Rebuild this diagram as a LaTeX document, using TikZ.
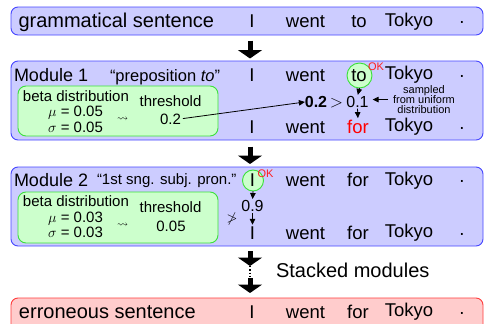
\documentclass[tikz,border=0pt]{standalone}
\usepackage{amssymb}
\usepackage{fontspec}
\setmainfont{Liberation Sans}
\usetikzlibrary{arrows.meta}
\definecolor{lav}{HTML}{CCCCFF}
\definecolor{lavd}{HTML}{4646FF}
\definecolor{lgr}{HTML}{CCFFCC}
\definecolor{lgrd}{HTML}{3CE03C}
\definecolor{lpk}{HTML}{FFCCCC}
\definecolor{lpkd}{HTML}{FF3C3C}
\definecolor{okred}{HTML}{FF1E1E}
\newcommand{\fsLab}{\fontsize{20}{24}\selectfont}
\newcommand{\fsWrd}{\fontsize{18.5}{22}\selectfont}
\newcommand{\fsMod}{\fontsize{18}{22}\selectfont}
\newcommand{\fsMid}{\fontsize{15}{18}\selectfont}
\newcommand{\fsNum}{\fontsize{16}{19}\selectfont}
\newcommand{\fsTiny}{\fontsize{11}{12}\selectfont}
\newcommand{\fsOK}{\fontsize{11}{12}\selectfont}
\begin{document}
\begin{tikzpicture}[x=1pt,y=-1pt,
  every node/.style={inner sep=0pt, outer sep=0pt},
  panel/.style={draw=lavd, fill=lav, line width=0.9pt, rounded corners=7pt, minimum width=472pt, minimum height=#1},
  errpanel/.style={draw=lpkd, fill=lpk, line width=0.9pt, rounded corners=7pt, minimum width=472pt, minimum height=#1},
  greenbox/.style={draw=lgrd, fill=lgr, line width=0.9pt, rounded corners=8pt, minimum width=200pt, minimum height=#1},
  okcirc/.style={circle, draw=lgrd, fill=lgr, line width=0.9pt, minimum size=#1},
  wrd/.style={font=\fsWrd, anchor=base},
  lab/.style={font=\fsLab, anchor=base west},
  modlab/.style={font=\fsMod, anchor=base west},
  mid/.style={font=\fsMid, anchor=base},
  num/.style={font=\fsNum, anchor=base},
  tiny/.style={font=\fsTiny, anchor=base},
  oklab/.style={font=\fsOK, text=okred, anchor=base},
  bigarrow/.style={line width=5pt, -{Triangle[width=24pt,length=8.5pt]}},
  sarr/.style={line width=0.8pt, -{Triangle[width=5.5pt,length=6pt]}}
]
\useasboundingbox (0,0) rectangle (485,324);
\clip (0,0) rectangle (485,324);

% panels
\node[panel=28pt] (p0) at (247,21) {};
\node[panel=79pt] (p1) at (247,100.5) {};
\node[panel=79pt] (p2) at (247,206.5) {};
\node[errpanel=40pt] (p3) at (247,318) {};
\node[greenbox=50pt] (g1) at (118,111) {};
\node[greenbox=51pt] (g2) at (118,217.5) {};
\node[okcirc=25pt] (c1) at (359.5,75.5) {};
\node[okcirc=21pt] (c2) at (253,180.5) {};

% row 0
\node[lab] (l0) at (18.5,27.5) {grammatical sentence};
\node[wrd] (a0) at (252,27.5) {I};
\node[wrd] (b0) at (305.5,27.5) {went};
\node[wrd] (d0) at (359,27.5) {to};
\node[wrd] (t0) at (409,26.5) {Tokyo};
\node[wrd] (e0) at (462,27.5) {·};

% module 1
\node[modlab] (m1) at (14,81) {Module 1};
\node[font=\fontsize{16.5}{19}\selectfont, anchor=base west] (q1) at (110,81) {“preposition \textit{to}”};
\node[wrd] (a1) at (252,81) {I};
\node[wrd] (b1) at (305.5,81) {went};
\node[wrd] (d1) at (359,81) {to};
\node[wrd] (t1) at (409,79.5) {Tokyo};
\node[wrd] (e1) at (462,81) {·};
\node[oklab] (ok1) at (376,70) {OK};

\node[mid, anchor=base west] (bd1) at (23,101) {beta distribution};
\node[mid] (mu1) at (75.5,116.7) {$\mu$ = 0.05};
\node[mid] (si1) at (75.5,132.3) {$\sigma$ = 0.05};
\node[font=\fsTiny] (ld1) at (122.5,119) {$\leadsto$};
\node[mid] (th1l) at (170.5,106.7) {threshold};
\node[mid] (th1) at (170.5,124) {0.2};

\node[num] (cmp1) at (316,107.5) {\textbf{0.2}};
\node[num] (gt1) at (336.5,107.5) {$>$};
\node[num] (smp1) at (357.5,107.5) {0.1};
\node[tiny] (s1) at (424,93) {sampled};
\node[tiny] (s2) at (424,103.5) {from uniform};
\node[tiny] (s3) at (424,113) {distribution};

\node[wrd] (a1b) at (252,133.5) {I};
\node[wrd] (b1b) at (305.5,133.5) {went};
\node[wrd, text=red] (d1b) at (358,133.5) {for};
\node[wrd] (t1b) at (409,131.5) {Tokyo};
\node[wrd] (e1b) at (462,133.5) {·};

\draw[sarr, shorten <=2pt] (th1.east) -- (cmp1.west);
\draw[sarr, shorten >=1.5pt] (c1.south) -- (smp1.north);
\draw[sarr, shorten <=1pt, shorten >=2pt] (smp1.south) -- (d1b.north);
\draw[sarr, shorten <=5pt, shorten >=4pt] (s2.west) -- (s2.west -| smp1.east);

% module 2
\node[modlab] (m2) at (14,186) {Module 2};
\node[font=\fsMid, anchor=base west] (q2) at (97,184) {“1st sng. subj. pron.”};
\node[wrd] (a2) at (252.5,186.5) {I};
\node[wrd] (b2) at (305.5,186.5) {went};
\node[wrd] (d2) at (358,186.5) {for};
\node[wrd] (t2) at (409,185) {Tokyo};
\node[wrd] (e2) at (462,186.5) {·};
\node[oklab] (ok2) at (265.5,177) {OK};

\node[mid, anchor=base west] (bd2) at (23,206) {beta distribution};
\node[mid] (mu2) at (75.5,222) {$\mu$ = 0.03};
\node[mid] (si2) at (75.5,237.5) {$\sigma$ = 0.03};
\node[font=\fsTiny] (ld2) at (122.5,225) {$\leadsto$};
\node[mid] (th2l) at (170.5,212) {threshold};
\node[mid] (th2) at (171,231) {0.05};

\node[num] (n09) at (252.5,211.7) {0.9};
\node[font=\fontsize{14}{16}\selectfont] (ngt) at (232,218.5) {$\ngtr$};

\node[wrd] (a2b) at (252.5,239) {I};
\node[wrd] (b2b) at (305.5,239) {went};
\node[wrd] (d2b) at (358,239) {for};
\node[wrd] (t2b) at (409,237.5) {Tokyo};
\node[wrd] (e2b) at (462,239) {·};

\draw[sarr, shorten >=1.5pt] (c2.south) -- (n09.north);
\draw[sarr, shorten <=1.5pt, shorten >=1.5pt] (n09.south) -- (a2b.north);

% final
\node[lab] (l3) at (19,318) {erroneous sentence};
\node[wrd] (a3) at (252,318) {I};
\node[wrd] (b3) at (305.5,318) {went};
\node[wrd] (d3) at (358,318) {for};
\node[wrd] (t3) at (409,316) {Tokyo};
\node[wrd] (e3) at (462,318) {·};

% big arrows
\coordinate (ax) at (250,0);
\draw[bigarrow, shorten <=5.5pt, shorten >=2.5pt] (p0.south -| ax) -- (p1.north -| ax);
\draw[bigarrow, shorten <=6.5pt, shorten >=3pt] (p1.south -| ax) -- (p2.north -| ax);
\coordinate (sa1) at (250,251);
\coordinate (sa2) at (250,266);
\coordinate (sa3) at (250,278);
\coordinate (sa4) at (250,293);
\draw[bigarrow] (sa1) -- (sa2);
\draw[line width=1.3pt, dotted] (sa2) -- (sa3);
\draw[bigarrow] (sa3) -- (sa4);
\node[font=\fsLab, anchor=base west] (stk) at (276,277) {Stacked modules};
\end{tikzpicture}
\end{document}
